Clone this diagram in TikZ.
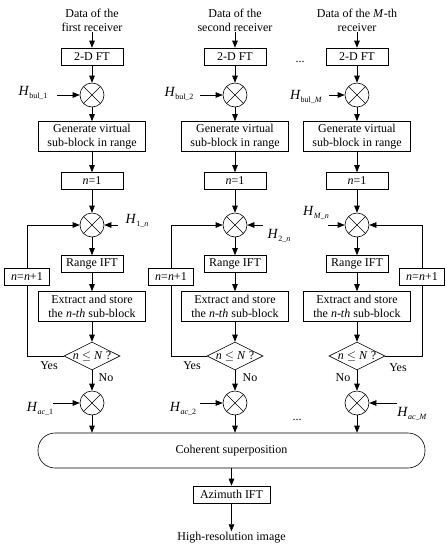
\documentclass[tikz,border=0pt]{standalone}
\usepackage{fontspec}
\setmainfont{Liberation Serif}
\usetikzlibrary{shapes.geometric,arrows.meta}
\newcommand\Hlab[1]{{\fontsize{14}{14}\selectfont\textit{H}}\raisebox{-0.5ex}{\fontsize{8}{8}\selectfont #1}}
\begin{document}
\begin{tikzpicture}[x=1pt,y=-1pt,
  every node/.style={font=\fontsize{12}{14}\selectfont},
  box/.style={draw, line width=0.6pt, minimum height=17pt, inner sep=1pt, align=center},
  bigbox/.style={box, minimum width=107pt, minimum height=30pt},
  sbox/.style={box, minimum width=62pt},
  loopbox/.style={box, minimum width=45pt},
  mult/.style={circle, draw, line width=0.6pt, minimum size=24pt, inner sep=0pt,
    path picture={\draw[line width=0.6pt] (path picture bounding box.north west)--(path picture bounding box.south east)
      (path picture bounding box.north east)--(path picture bounding box.south west);}},
  dec/.style={diamond, draw, line width=0.6pt, minimum width=56pt, minimum height=28pt, inner sep=0pt},
  plain/.style={inner sep=1pt, align=center},
  arr/.style={line width=0.6pt, -{Triangle[length=7pt,width=5.5pt]}},
  ln/.style={line width=0.6pt}
]
\useasboundingbox (0,0) rectangle (447,550);

% ---------- column 1 ----------
\node[plain] (t1) at (92,20) {Data of the\\first receiver};
\node[sbox] (f1) at (92,56.5) {2-D FT};
\node[mult] (a1) at (92,95) {};
\node[bigbox] (g1) at (92,136.5) {Generate virtual\\sub-block in range};
\node[sbox] (n1) at (92,181) {\textit{n}=1};
\node[mult] (b1) at (92,225) {};
\node[sbox] (r1) at (92,264) {Range IFT};
\node[bigbox] (e1) at (92,306.5) {Extract and store\\the \textit{n-th} sub-block};
\node[dec] (d1) at (92,356) {};
\node[plain] (q1) at (92,356) {\textit{n} $\leq$ \textit{N} ?};
\node[loopbox] (l1) at (27,276.5) {\textit{n}=\textit{n}+1};
\node[mult] (c1) at (92,403) {};
\node[plain] (hb1) at (33,93) {\Hlab{bul\_1}};
\node[plain] (h1n) at (137,221) {\Hlab{1\_\textit{n}}};
\node[plain] (hac1) at (40,409) {\Hlab{\textit{ac}\_1}};
\node[plain] (y1) at (49,366) {Yes};
\node[plain] (no1) at (106,378) {No};
\coordinate (hb1s) at (57,95);
\coordinate (h1ns) at (118,225);
\coordinate (hac1s) at (53,403);

% ---------- column 2 ----------
\node[plain] (t2) at (235,20) {Data of the\\second receiver};
\node[sbox] (f2) at (235,56.5) {2-D FT};
\node[mult] (a2) at (235,95) {};
\node[bigbox] (g2) at (235,136.5) {Generate virtual\\sub-block in range};
\node[sbox] (n2) at (235,181) {\textit{n}=1};
\node[mult] (b2) at (235,225) {};
\node[sbox] (r2) at (235,264) {Range IFT};
\node[bigbox] (e2) at (235,306.5) {Extract and store\\the \textit{n-th} sub-block};
\node[dec] (d2) at (235,356) {};
\node[plain] (q2) at (235,356) {\textit{n} $\leq$ \textit{N} ?};
\node[loopbox] (l2) at (171,276.5) {\textit{n}=\textit{n}+1};
\node[mult] (c2) at (235,403) {};
\node[plain] (hb2) at (179,94) {\Hlab{bul\_2}};
\node[plain] (h2n) at (279,236) {\Hlab{2\_\textit{n}}};
\node[plain] (hac2) at (183,409) {\Hlab{\textit{ac}\_2}};
\node[plain] (y2) at (192,366) {Yes};
\node[plain] (no2) at (250,378) {No};
\coordinate (hb2s) at (200,95);
\coordinate (h2ns) at (263,225);
\coordinate (hac2s) at (200,403);

% ---------- column 3 ----------
\node[plain] (t3) at (357,20) {Data of the \textit{M}-th\\receiver};
\node[sbox] (f3) at (357,56.5) {2-D FT};
\node[mult] (a3) at (357,95) {};
\node[bigbox] (g3) at (357,136.5) {Generate virtual\\sub-block in range};
\node[sbox] (n3) at (357,181) {\textit{n}=1};
\node[mult] (b3) at (357,225) {};
\node[sbox] (r3) at (357,264) {Range IFT};
\node[bigbox] (e3) at (357,306.5) {Extract and store\\the \textit{n-th} sub-block};
\node[dec] (d3) at (357,356) {};
\node[plain] (q3) at (357,356) {\textit{n} $\leq$ \textit{N} ?};
\node[loopbox] (l3) at (422,276.5) {\textit{n}=\textit{n}+1};
\node[mult] (c3) at (357,403) {};
\node[plain] (hbM) at (306,97) {\Hlab{bul\_\textit{M}}};
\node[plain] (hMn) at (316,213) {\Hlab{\textit{M}\_\textit{n}}};
\node[plain] (hacM) at (412,414) {\Hlab{\textit{ac}\_\textit{M}}};
\node[plain] (y3) at (398,368) {Yes};
\node[plain] (no3) at (343,378) {No};
\coordinate (hbMs) at (329,95);
\coordinate (hMns) at (328,225);
\coordinate (hacMs) at (397,403);

% ---------- dots ----------
\node[plain] (dots1) at (300,62) {...};
\node[plain] (dots2) at (297,420) {...};

% ---------- bottom ----------
\node[draw, ln, rounded corners=17pt, minimum width=387pt, minimum height=35pt] (coh) at (231.5,450.5) {Coherent superposition};
\node[box, minimum width=77pt] (az) at (231.5,494.5) {Azimuth IFT};
\node[plain] (out) at (231.5,538) {High-resolution image};

% ---------- connectors ----------
\foreach \i in {1,2,3}{
  \draw[arr] (t\i.south) -- (f\i.north);
  \draw[arr] (f\i.south) -- (a\i.north);
  \draw[arr] (a\i.south) -- (g\i.north);
  \draw[arr] (g\i.south) -- (n\i.north);
  \draw[arr] (n\i.south) -- (b\i.north);
  \draw[arr] (b\i.south) -- (r\i.north);
  \draw[arr] (r\i.south) -- (e\i.north);
  \draw[arr] (e\i.south) -- (d\i.north);
  \draw[arr] (d\i.south) -- (c\i.north);
  \draw[arr] (c\i.south) -- (c\i.south |- coh.north);
}
\draw[ln] (d1.west) -| (l1.south);
\draw[arr] (l1.north) |- (b1.west);
\draw[ln] (d2.west) -| (l2.south);
\draw[arr] (l2.north) |- (b2.west);
\draw[ln] (d3.east) -| (l3.south);
\draw[arr] (l3.north) |- (b3.east);

\draw[arr] (hb1s) -- (a1.west);
\draw[arr] (hb2s) -- (a2.west);
\draw[arr] (hbMs) -- (a3.west);
\draw[arr] (h1ns) -- (b1.east);
\draw[arr] (h2ns) -- (b2.east);
\draw[arr] (hMns) -- (b3.west);
\draw[arr] (hac1s) -- (c1.west);
\draw[arr] (hac2s) -- (c2.west);
\draw[arr] (hacMs) -- (c3.east);

\draw[arr] (coh.south) -- (az.north);
\draw[arr] (az.south) -- (out.north);
\end{tikzpicture}
\end{document}
